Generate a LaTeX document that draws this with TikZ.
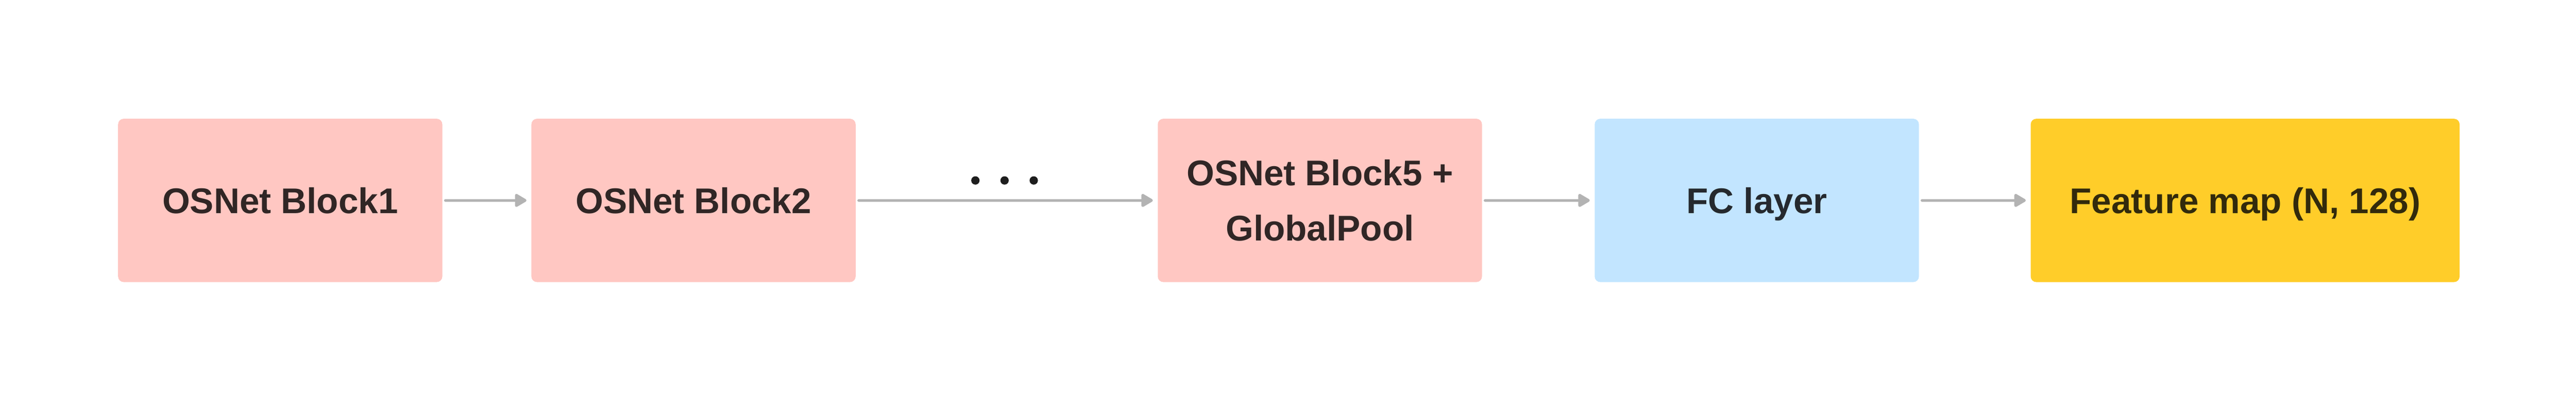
\documentclass[tikz,border=0pt]{standalone}
\usepackage{fontspec}
\setsansfont{Liberation Sans}
\usetikzlibrary{arrows.meta,positioning}
\definecolor{blockpink}{HTML}{FFC7C2}
\definecolor{blockblue}{HTML}{C2E5FF}
\definecolor{blockyellow}{HTML}{FFCD29}
\definecolor{textpink}{HTML}{302625}
\definecolor{textblue}{HTML}{25292E}
\definecolor{textyellow}{HTML}{322A0C}
\definecolor{arrowgray}{HTML}{B3B3B3}
\definecolor{dotblack}{HTML}{1E1E1E}

\begin{document}
\begin{tikzpicture}[->,>={Triangle[length=0.28cm,width=0.31cm,round]},line cap=round,
	node distance=1.91cm,
	block/.style={rectangle,rounded corners=0.12cm,minimum width=7cm,minimum height=3.52cm,inner sep=0pt,align=center,
		font=\sffamily\bfseries\fontsize{21.9}{34.1}\selectfont},
	one line/.style={text height=0.55cm,text depth=0pt},
	red block/.style={block,fill=blockpink,text=textpink},
	blue block/.style={block,fill=blockblue,text=textblue},
	yellow block/.style={block,fill=blockyellow,text=textyellow},
	link/.style={color=arrowgray,line width=0.06cm,shorten <=0.06cm,shorten >=0.1cm},
	dot/.style={circle,fill=dotblack,minimum size=0.18cm,inner sep=0pt}]
	
	\useasboundingbox (0,0) rectangle (55.62,8.64);
	
	\node[red block,one line] (b1) at (6.05,4.32) {OSNet Block1};
	\node[red block,one line] (b2) [right=of b1] {OSNet Block2};
	\node[red block] (b5) [right=6.51cm of b2] {OSNet Block5 +\\GlobalPool};
	\node[blue block,one line] (fc) [right=2.42cm of b5] {FC layer};
	\node[yellow block,one line,minimum width=9.26cm] (feat) [right=2.4cm of fc] {Feature map (N, 128)};
	
	% skipped blocks
	\foreach \i/\x in {1/21.06,2/21.69,3/22.32}
		\node[dot] (dot\i) at (\x,4.75) {};
	
	\path[link]
	(b1) edge (b2)
	(b2) edge (b5)
	(b5) edge (fc)
	(fc) edge (feat)
	;
\end{tikzpicture}
\end{document}
